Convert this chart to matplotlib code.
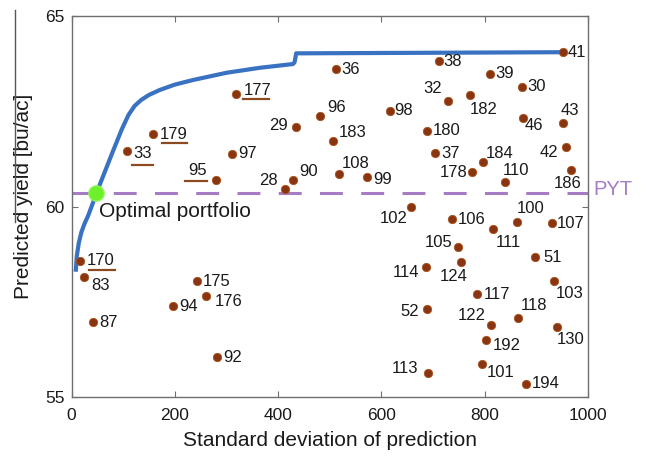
import numpy as np
import matplotlib.pyplot as plt
from matplotlib import transforms
from matplotlib.lines import Line2D

plt.rcParams.update({
    'font.family': ['Liberation Sans', 'DejaVu Sans'],
    'font.size': 12,
    'axes.edgecolor': '#6e6e6e',
    'axes.linewidth': 1.0,
    'xtick.color': '#6e6e6e',
    'ytick.color': '#6e6e6e',
    'xtick.labelcolor': '#1a1a1a',
    'ytick.labelcolor': '#1a1a1a',
})

# individual entries: label, std dev of prediction, predicted yield
entry_ids = ['36', '177', '96', '29', '183', '179', '33', '97', '95', '28', '90', '108',
             '41', '38', '39', '30', '32', '182', '98', '43', '46', '180', '37', '184',
             '178', '110', '42', '186', '99', '170', '83', '87', '175', '94', '176', '92',
             '102', '106', '111', '100', '107', '105', '124', '114', '51', '103', '117',
             '52', '118', '122', '130', '192', '113', '101', '194']
entry_sd = [513, 319, 481, 435, 506, 157, 108, 310, 279, 413, 429, 518,
            951, 711, 811, 873, 729, 772, 616, 951, 874, 689, 704, 797,
            776, 839, 958, 968, 573, 17, 24, 42, 242, 197, 261, 282,
            658, 737, 816, 862, 930, 748, 755, 687, 898, 934, 785,
            689, 864, 813, 940, 802, 690, 795, 881]
entry_yield = [63.60, 62.95, 62.37, 62.08, 61.73, 61.90, 61.46, 61.38, 60.69, 60.47, 60.70, 60.85,
               64.05, 63.81, 63.48, 63.14, 62.78, 62.94, 62.51, 62.20, 62.33, 61.99, 61.40, 61.16,
               60.90, 60.64, 61.55, 60.96, 60.78, 58.58, 58.16, 56.97, 58.04, 57.39, 57.66, 56.05,
               59.99, 59.67, 59.41, 59.59, 59.56, 58.93, 58.55, 58.42, 58.67, 58.04, 57.70,
               57.31, 57.07, 56.88, 56.85, 56.51, 55.64, 55.87, 55.35]

# efficient frontier
frontier_sd = [8, 10, 14, 19, 25, 32, 40, 48, 64, 80, 97, 110, 122, 135, 150, 171,
               200, 235, 300, 364, 429, 432, 435, 951]
frontier_yield = [58.29, 58.70, 59.05, 59.33, 59.55, 59.76, 60.05, 60.35, 60.90, 61.45,
                  62.02, 62.40, 62.64, 62.80, 62.93, 63.06, 63.20, 63.32, 63.51, 63.64,
                  63.74, 63.79, 64.02, 64.05]

optimal_sd, optimal_yield = 48, 60.35
pyt_yield = 60.35
underlined = ['177', '179', '33', '95', '170']

# label placement (pixel offsets from the point: dx, dy, ha)
label_pos = {
    '36': (5, 0, 'left'), '177': (7, 4, 'left'), '96': (7, 9, 'left'), '29': (-8, 2, 'right'),
    '183': (6, 8, 'left'), '179': (7, 0, 'left'), '33': (6, -3, 'left'), '97': (7, 0, 'left'),
    '95': (-9, 10, 'right'), '28': (-7, 8, 'right'), '90': (6, 8, 'left'), '108': (3, 11, 'left'),
    '41': (5, 0, 'left'), '38': (5, 0, 'left'), '39': (5, 0, 'left'), '30': (5, 0, 'left'),
    '32': (-6, 12, 'right'), '182': (0, -15, 'left'), '98': (5, 0, 'left'), '43': (-2, 12, 'left'),
    '46': (2, -8, 'left'), '180': (5, 0, 'left'), '37': (6, 0, 'left'), '184': (3, 9, 'left'),
    '178': (-5, 0, 'right'), '110': (-2, 12, 'left'), '42': (-8, -5, 'right'),
    '186': (-18, -14, 'left'), '99': (6, -3, 'left'), '170': (6, 0, 'left'), '83': (7, -9, 'left'),
    '87': (6, 0, 'left'), '175': (6, 0, 'left'), '94': (6, 0, 'left'), '176': (8, -6, 'left'),
    '92': (6, 0, 'left'), '102': (-4, -12, 'right'), '106': (6, 0, 'left'), '111': (3, -13, 'left'),
    '100': (0, 14, 'left'), '107': (5, 0, 'left'), '105': (-5, 5, 'right'),
    '124': (-22, -15, 'left'), '114': (-7, -6, 'right'), '51': (8, 0, 'left'),
    '103': (2, -12, 'left'), '117': (7, 0, 'left'), '52': (-8, -2, 'right'),
    '118': (3, 13, 'left'), '122': (-6, 10, 'right'), '130': (0, -13, 'left'),
    '192': (7, -6, 'left'), '113': (-10, 4, 'right'), '101': (5, -9, 'left'), '194': (5, 0, 'left'),
}
# underline segments (x0, x1, dy) in pixels relative to the point
underline_pos = {
    '177': (7, 33, -5), '179': (9, 34, -9), '33': (5, 26, -14),
    '95': (-31, -9, -1), '170': (9, 35, -9),
}

BLUE = '#3a72c2'
BROWN = '#8a3512'
PURPLE = '#a67cc4'

fig = plt.figure(figsize=(6.51, 4.57), dpi=100)
ax = fig.add_axes([0.110, 0.131, 0.793, 0.834])

ax.axhline(pyt_yield, color=PURPLE, lw=2.2, dashes=(7.5, 6), zorder=1)
ax.plot(frontier_sd, frontier_yield, color=BLUE, lw=3, solid_capstyle='butt',
        solid_joinstyle='round', zorder=2)
ax.plot(entry_sd, entry_yield, 'o', color=BROWN, ms=6, mec='#a8541c', mew=0.6, zorder=3)
ax.plot(optimal_sd, optimal_yield, 'o', color='#6cf02a', ms=11, mec='#8ff55a', mew=1, zorder=4)

for name, x, y in zip(entry_ids, entry_sd, entry_yield):
    dx, dy, ha = label_pos[name]
    ax.annotate(name, (x, y), xytext=(dx, dy), textcoords='offset pixels',
                ha=ha, va='center', fontsize=12, color='#1a1a1a', zorder=5)
    if name in underline_pos:
        x0, x1, uy = underline_pos[name]
        tr = transforms.IdentityTransform() + transforms.ScaledTranslation(x, y, ax.transData)
        ax.add_line(Line2D([x0, x1], [uy, uy], transform=tr, color='#8b4a20', lw=1.6))

ax.text(53, 59.86, 'Optimal portfolio', fontsize=15, ha='left', va='center', color='#1a1a1a')
ax.text(1010, pyt_yield + 0.1, 'PYT', fontsize=14.5, color=PURPLE, ha='left', va='center',
        clip_on=False)

ax.set_xlim(0, 1000)
ax.set_ylim(55, 65)
ax.set_xticks([0, 200, 400, 600, 800, 1000])
ax.set_yticks([55, 60, 65])
ax.tick_params(direction='in', length=4, top=True, right=True, labelsize=12.5)
ax.tick_params(axis='x', pad=8)
ax.tick_params(axis='y', pad=5)

ax.set_xlabel('Standard deviation of prediction', fontsize=15, color='#1a1a1a', va='top')
ax.xaxis.set_label_coords(0.5, -0.089)
ax.set_ylabel('Predicted yield [bu/ac]', fontsize=15, color='#1a1a1a')
ax.yaxis.set_label_coords(-0.074, 0.528)

# thin scan line at the left edge of the original figure
fig.add_artist(Line2D([0.023, 0.023], [0.514, 0.978], transform=fig.transFigure,
                      color='#555555', lw=1))

plt.savefig('out.png', dpi=100)
